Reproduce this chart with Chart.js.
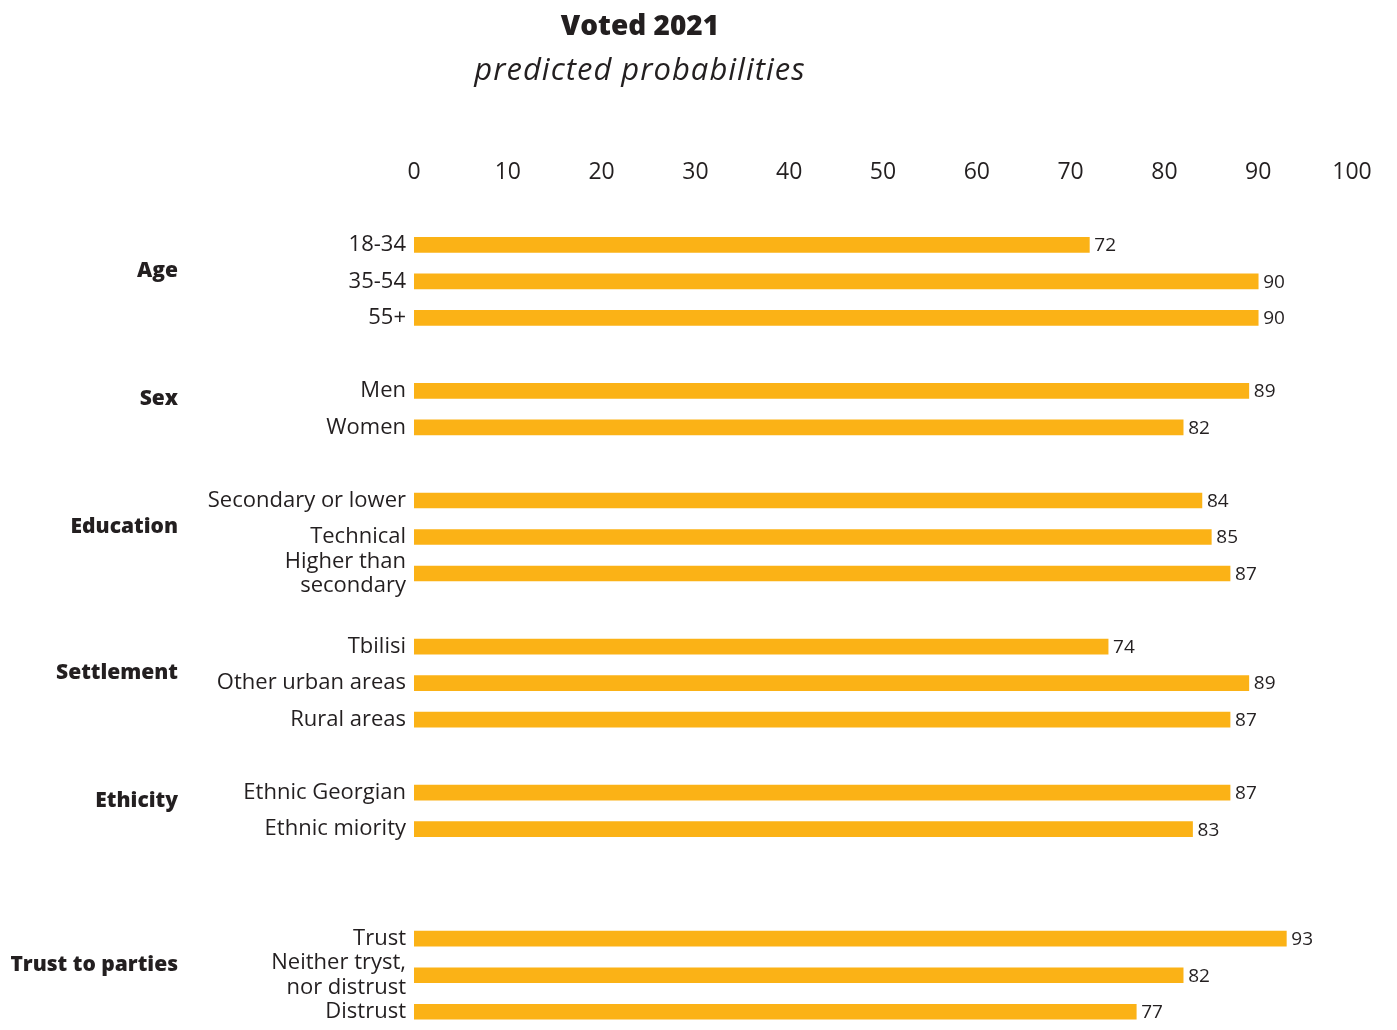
<!DOCTYPE html>
<html lang="en">
<head>
  <meta charset="UTF-8">
  <title>Voted 2021 - predicted probabilities</title>
  <script src="https://cdn.jsdelivr.net/npm/chart.js"></script>
  <style>
    body {
      margin: 0;
      background: #fff;
      font-family: "Open Sans", sans-serif;
      color: #231f20;
    }
    .wrap {
      position: relative;
      width: 1397px;
      height: 1030px;
    }
    .heading {
      position: absolute;
      left: 0;
      top: 4px;
      width: 1280px;
      text-align: center;
    }
    .heading h1 {
      margin: 0;
      font-size: 28px;
      font-weight: 800;
      line-height: 40px;
    }
    .heading p {
      margin: 4px 0 0;
      font-size: 31px;
      font-style: italic;
      letter-spacing: 1px;
      line-height: 40px;
    }
  </style>
</head>
<body>

<div class="wrap">
  <canvas id="votedChart" width="1397" height="1030"></canvas>
  <div class="heading">
    <h1>Voted 2021</h1>
    <p>predicted probabilities</p>
  </div>
</div>

<script>
  const groupNames = ['Age', 'Sex', 'Education', 'Settlement', 'Ethicity', 'Trust to parties'];
  const categories = [
    ['18-34', '35-54', '55+'],
    ['Men', 'Women'],
    ['Secondary or lower', 'Technical', ['Higher than', 'secondary']],
    ['Tbilisi', 'Other urban areas', 'Rural areas'],
    ['Ethnic Georgian', 'Ethnic miority'],
    ['Trust', ['Neither tryst,', 'nor distrust'], 'Distrust']
  ];
  const values = [
    [72, 90, 90],
    [89, 82],
    [84, 85, 87],
    [74, 89, 87],
    [87, 83],
    [93, 82, 77]
  ];
  const xTicks = [0, 10, 20, 30, 40, 50, 60, 70, 80, 90, 100];

  // flatten groups, blank rows between them
  const labels = [];
  const data = [];
  const groupRows = [];
  groupNames.forEach((name, g) => {
    if (g > 0) {
      const gap = g === groupNames.length - 1 ? 2 : 1;
      for (let i = 0; i < gap; i++) { labels.push(''); data.push(null); }
    }
    const start = labels.length;
    categories[g].forEach((c, i) => { labels.push(c); data.push(values[g][i]); });
    groupRows.push([start, labels.length - 1]);
  });

  const textColor = '#231f20';
  const fontFamily = '"Open Sans", sans-serif';

  const annotate = {
    id: 'annotate',
    afterDatasetsDraw(chart) {
      const ctx = chart.ctx;
      const meta = chart.getDatasetMeta(0);
      ctx.save();
      ctx.fillStyle = textColor;
      ctx.font = '19px ' + fontFamily;
      ctx.textAlign = 'left';
      ctx.textBaseline = 'middle';
      meta.data.forEach((bar, i) => {
        if (data[i] == null) return;
        ctx.fillText(data[i], bar.x + 5, bar.y + 1);
      });

      const y = chart.scales.y;
      ctx.font = '800 21px ' + fontFamily;
      ctx.textAlign = 'right';
      groupRows.forEach(([a, b], g) => {
        const mid = (y.getPixelForValue(a) + y.getPixelForValue(b)) / 2;
        ctx.fillText(groupNames[g], 178, mid - 10);
      });
      ctx.restore();
    }
  };

  new Chart(document.getElementById('votedChart').getContext('2d'), {
    type: 'bar',
    data: {
      labels: labels,
      datasets: [{
        data: data,
        backgroundColor: '#fbb216',
        barThickness: 15
      }]
    },
    options: {
      indexAxis: 'y',
      responsive: false,
      animation: false,
      layout: {
        padding: { top: 119, right: 45, bottom: 0, left: 0 }
      },
      plugins: {
        legend: { display: false },
        tooltip: { enabled: false }
      },
      scales: {
        x: {
          position: 'top',
          min: 0,
          max: 100,
          afterBuildTicks: (s) => { s.ticks = xTicks.map(v => ({ value: v })); },
          afterFit: (s) => {
            s.paddingLeft = 0;
            s.paddingRight = 0;
          },
          grid: { display: false, drawTicks: false },
          border: { display: false },
          ticks: {
            padding: 40,
            color: textColor,
            font: { size: 23, family: fontFamily }
          }
        },
        y: {
          afterFit: (s) => {
            s.width = 414;
            s.paddingTop = 0;
            s.paddingBottom = 0;
          },
          grid: { display: false, drawTicks: false },
          border: { display: false },
          ticks: {
            padding: 8,
            autoSkip: false,
            color: textColor,
            font: { size: 22, family: fontFamily, lineHeight: 1.1 }
          }
        }
      }
    },
    plugins: [annotate]
  });
</script>

</body>
</html>
